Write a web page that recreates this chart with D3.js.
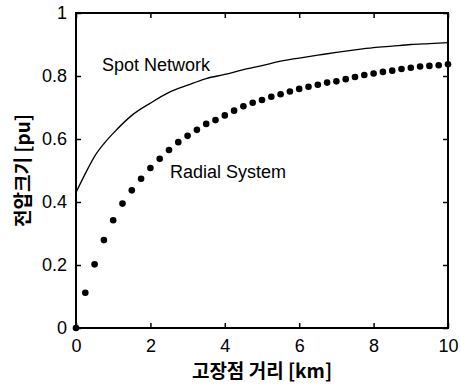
<!DOCTYPE html>
<html>
<head>
<meta charset="utf-8">
<script src="https://cdn.jsdelivr.net/npm/d3@7"></script>
<style>
  body { margin: 0; background: #fff; }
  svg text { font-family: "Liberation Sans", Arial, sans-serif; fill: #000; }
  .kr { font-family: "Noto Sans CJK KR", sans-serif; font-weight: bold; }
</style>
</head>
<body>
<script>
// radial system, sampled every 0.25 km
var radialX = d3.range(0, 10.001, 0.25);
var radialY = [0, 0.112, 0.202, 0.279, 0.342, 0.395, 0.437, 0.474, 0.508, 0.537,
  0.565, 0.590, 0.610, 0.629, 0.648, 0.660, 0.675, 0.690, 0.704, 0.715,
  0.724, 0.734, 0.742, 0.751, 0.759, 0.766, 0.772, 0.779, 0.783, 0.790,
  0.797, 0.803, 0.808, 0.813, 0.817, 0.822, 0.826, 0.830, 0.832, 0.834, 0.837];

// spot network curve
var spotX = [0, 0.25, 0.5, 0.75, 1, 1.5, 2, 2.5, 3, 3.5, 4, 4.5, 5, 5.5, 6, 6.5, 7, 7.5, 8, 8.5, 9, 9.5, 10];
var spotY = [0.43, 0.49, 0.545, 0.585, 0.618, 0.675, 0.714, 0.748, 0.771, 0.792, 0.805, 0.82, 0.833, 0.847, 0.857, 0.866, 0.875, 0.883, 0.89, 0.895, 0.9, 0.903, 0.906];

var xTicks = [0, 2, 4, 6, 8, 10];
var yTicks = [0, 0.2, 0.4, 0.6, 0.8, 1];

var W = 460, H = 388;
var pLeft = 76, pRight = 448, pTop = 13, pBottom = 328;

var svg = d3.select('body').append('svg')
  .attr('width', W)
  .attr('height', H);

var x = d3.scaleLinear().domain([0, 10]).range([pLeft, pRight]);
var y = d3.scaleLinear().domain([0, 1]).range([pBottom, pTop]);

var tickLen = 5;
var fmt = function(d) { return String(d); };

// ticks on all four sides, pointing inward
svg.append('g').attr('transform', 'translate(0,' + pBottom + ')')
  .call(d3.axisBottom(x).tickValues(xTicks).tickSize(-tickLen).tickPadding(11).tickFormat(fmt));
svg.append('g').attr('transform', 'translate(0,' + pTop + ')')
  .call(d3.axisTop(x).tickValues(xTicks).tickSize(-tickLen).tickFormat(''));
svg.append('g').attr('transform', 'translate(' + pLeft + ',0)')
  .call(d3.axisLeft(y).tickValues(yTicks).tickSize(-tickLen).tickPadding(9).tickFormat(fmt));
svg.append('g').attr('transform', 'translate(' + pRight + ',0)')
  .call(d3.axisRight(y).tickValues(yTicks).tickSize(-tickLen).tickFormat(''));

svg.selectAll('.domain').remove();
svg.selectAll('.tick line').attr('stroke', '#000').attr('stroke-width', 1.5);
svg.selectAll('.tick text')
  .style('font-family', '"Liberation Sans", Arial, sans-serif')
  .style('font-size', '18px')
  .attr('fill', '#000');

svg.append('rect')
  .attr('x', pLeft).attr('y', pTop)
  .attr('width', pRight - pLeft).attr('height', pBottom - pTop)
  .attr('fill', 'none').attr('stroke', '#000').attr('stroke-width', 2);

// spot network line
var line = d3.line()
  .x(function(d, i) { return x(spotX[i]); })
  .y(function(d) { return y(d); })
  .curve(d3.curveMonotoneX);

svg.append('path')
  .datum(spotY)
  .attr('d', line)
  .attr('fill', 'none')
  .attr('stroke', '#000')
  .attr('stroke-width', 1.3);

// radial system dots
svg.selectAll('circle.dot')
  .data(radialY)
  .enter()
  .append('circle')
  .attr('class', 'dot')
  .attr('cx', function(d, i) { return x(radialX[i]); })
  .attr('cy', function(d) { return y(d); })
  .attr('r', 3.3)
  .attr('fill', '#000');

// labels
svg.append('text')
  .attr('x', 102).attr('y', 71)
  .style('font-size', '18px')
  .text('Spot Network');

svg.append('text')
  .attr('x', 170).attr('y', 178)
  .style('font-size', '18px')
  .text('Radial System');

svg.append('text')
  .attr('class', 'kr')
  .attr('x', (pLeft + pRight) / 2).attr('y', 378)
  .attr('text-anchor', 'middle')
  .style('font-size', '19px')
  .text('고장점 거리 [km]');

svg.append('text')
  .attr('class', 'kr')
  .attr('transform', 'translate(30,' + ((pTop + pBottom) / 2) + ') rotate(-90)')
  .attr('text-anchor', 'middle')
  .style('font-size', '19px')
  .text('전압크기 [pu]');
</script>
</body>
</html>
